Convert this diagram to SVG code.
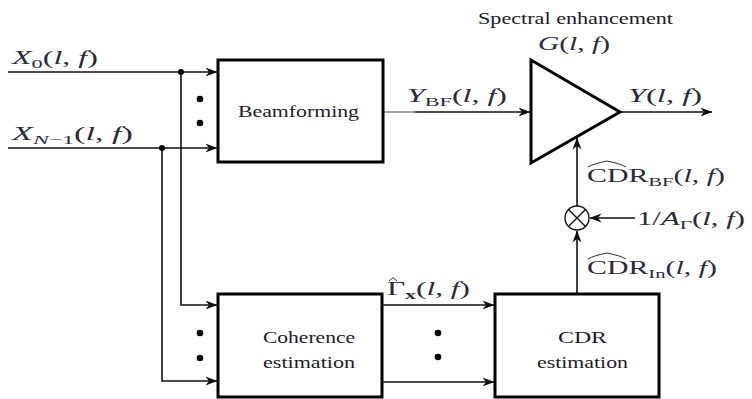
<svg xmlns="http://www.w3.org/2000/svg" width="752" height="399" viewBox="0 0 752 399">
<style>
.box{fill:#fff;stroke:#000;stroke-width:3}
.ln{fill:none;stroke:#111;stroke-width:1.6}
.t{font-family:"Liberation Serif","DejaVu Serif",serif;font-size:16px;fill:#1c1c28}
.m{font-family:"Liberation Serif","DejaVu Serif",serif;font-style:italic;font-size:18px;fill:#2a2a3a}
.r{font-style:normal}
.s{font-style:normal;font-size:12.5px}
.dot{fill:#000}
.hat{fill:none;stroke:#2a2a3a;stroke-width:1}
</style>
<defs>
<marker id="ah" viewBox="0 0 12 10" refX="11.5" refY="5" markerWidth="12" markerHeight="10" markerUnits="userSpaceOnUse" orient="auto">
<path d="M0,0.5 L12,5 L0,9.5 L3.5,5 z" fill="#111"/>
</marker>
<linearGradient id="gbf" gradientUnits="userSpaceOnUse" x1="383" y1="0" x2="531" y2="0">
<stop offset="0" stop-color="#888"/><stop offset="0.2" stop-color="#888"/><stop offset="0.23" stop-color="#111"/><stop offset="1" stop-color="#111"/>
</linearGradient>
</defs>

<g id="connectors">
<path class="ln" d="M8,72 H217" marker-end="url(#ah)"/>
<path class="ln" d="M8,148 H217" marker-end="url(#ah)"/>
<path class="ln" d="M181,72 V305 H217" marker-end="url(#ah)"/>
<path class="ln" d="M162,148 V381 H217" marker-end="url(#ah)"/>
<circle class="dot" cx="181" cy="72" r="3"/>
<circle class="dot" cx="162" cy="148" r="3"/>
<path class="ln" d="M383,112 H530" style="stroke:url(#gbf)" marker-end="url(#ah)"/>
<path class="ln" d="M620,112 H712" marker-end="url(#ah)"/>
<path class="ln" d="M382,305 H494" marker-end="url(#ah)"/>
<path class="ln" d="M382,382 H494" marker-end="url(#ah)"/>
<path class="ln" d="M577,294 V231" marker-end="url(#ah)"/>
<path class="ln" d="M577,206 V138" marker-end="url(#ah)"/>
<path class="ln" d="M635,218 H590" marker-end="url(#ah)"/>
<circle class="dot" cx="200" cy="99" r="3.3"/>
<circle class="dot" cx="200" cy="123" r="3.3"/>
<circle class="dot" cx="200" cy="333" r="3.3"/>
<circle class="dot" cx="200" cy="358" r="3.3"/>
<circle class="dot" cx="438" cy="333" r="3.3"/>
<circle class="dot" cx="438" cy="357" r="3.3"/>
</g>

<g id="beamforming">
<rect class="box" x="218" y="60" width="165" height="102"/>
<text class="t" x="238" y="117" textLength="121" lengthAdjust="spacingAndGlyphs">Beamforming</text>
</g>

<g id="coherence-estimation">
<rect class="box" x="218" y="294" width="164" height="103"/>
<text class="t" x="263" y="343" textLength="92" lengthAdjust="spacingAndGlyphs">Coherence</text>
<text class="t" x="263" y="368" textLength="92" lengthAdjust="spacingAndGlyphs">estimation</text>
</g>

<g id="cdr-estimation">
<rect class="box" x="495" y="294" width="164" height="103"/>
<text class="t" x="558" y="343" textLength="49" lengthAdjust="spacingAndGlyphs">CDR</text>
<text class="t" x="537" y="368" textLength="91" lengthAdjust="spacingAndGlyphs">estimation</text>
</g>

<g id="spectral-enhancement">
<polygon class="box" points="531,60 531,163 620,112" stroke-linejoin="miter"/>
<text class="t" x="478" y="24" textLength="195" lengthAdjust="spacingAndGlyphs">Spectral enhancement</text>
<text class="m" x="538" y="50" textLength="72" lengthAdjust="spacingAndGlyphs">G<tspan class="r">(</tspan>l<tspan class="r">, </tspan>f<tspan class="r">)</tspan></text>
</g>

<g id="multiplier">
<circle cx="577" cy="218" r="12" fill="#fff" stroke="#111" stroke-width="1.4"/>
<path d="M568.5,209.5 L585.5,226.5 M585.5,209.5 L568.5,226.5" stroke="#111" stroke-width="1.4"/>
</g>

<g id="labels">
<text class="m" x="12" y="64" textLength="86" lengthAdjust="spacingAndGlyphs">X<tspan class="s" dy="4">0</tspan><tspan class="r" dy="-4">(</tspan>l<tspan class="r">, </tspan>f<tspan class="r">)</tspan></text>
<text class="m" x="12" y="140" textLength="121" lengthAdjust="spacingAndGlyphs">X<tspan font-size="12.5" dy="4">N</tspan><tspan class="s">−1</tspan><tspan class="r" dy="-4">(</tspan>l<tspan class="r">, </tspan>f<tspan class="r">)</tspan></text>
<text class="m" x="407" y="102" textLength="100" lengthAdjust="spacingAndGlyphs">Y<tspan class="s" dy="4">BF</tspan><tspan class="r" dy="-4">(</tspan>l<tspan class="r">, </tspan>f<tspan class="r">)</tspan></text>
<text class="m" x="628" y="102" textLength="74" lengthAdjust="spacingAndGlyphs">Y<tspan class="r">(</tspan>l<tspan class="r">, </tspan>f<tspan class="r">)</tspan></text>
<text class="m" x="587" y="182" textLength="138" lengthAdjust="spacingAndGlyphs"><tspan class="r">CDR</tspan><tspan class="s" dy="4">BF</tspan><tspan class="r" dy="-4">(</tspan>l<tspan class="r">, </tspan>f<tspan class="r">)</tspan></text>
<path class="hat" d="M588,167 Q594,163.5 607,161 Q620,163.5 626,167"/>
<text class="m" x="637" y="225" textLength="108" lengthAdjust="spacingAndGlyphs"><tspan class="r">1/</tspan>A<tspan class="s" dy="4">Γ</tspan><tspan class="r" dy="-4">(</tspan>l<tspan class="r">, </tspan>f<tspan class="r">)</tspan></text>
<text class="m" x="587" y="274" textLength="130" lengthAdjust="spacingAndGlyphs"><tspan class="r">CDR</tspan><tspan class="s" dy="4">In</tspan><tspan class="r" dy="-4">(</tspan>l<tspan class="r">, </tspan>f<tspan class="r">)</tspan></text>
<path class="hat" d="M588,259 Q594,255.5 607,253 Q620,255.5 626,259"/>
<text class="m" x="387" y="295" textLength="83" lengthAdjust="spacingAndGlyphs"><tspan class="r">Γ</tspan><tspan class="s" font-weight="bold" dy="4">x</tspan><tspan class="r" dy="-4">(</tspan>l<tspan class="r">, </tspan>f<tspan class="r">)</tspan></text>
<path class="hat" d="M389,281 L393,277.5 L397,281"/>
</g>
</svg>
